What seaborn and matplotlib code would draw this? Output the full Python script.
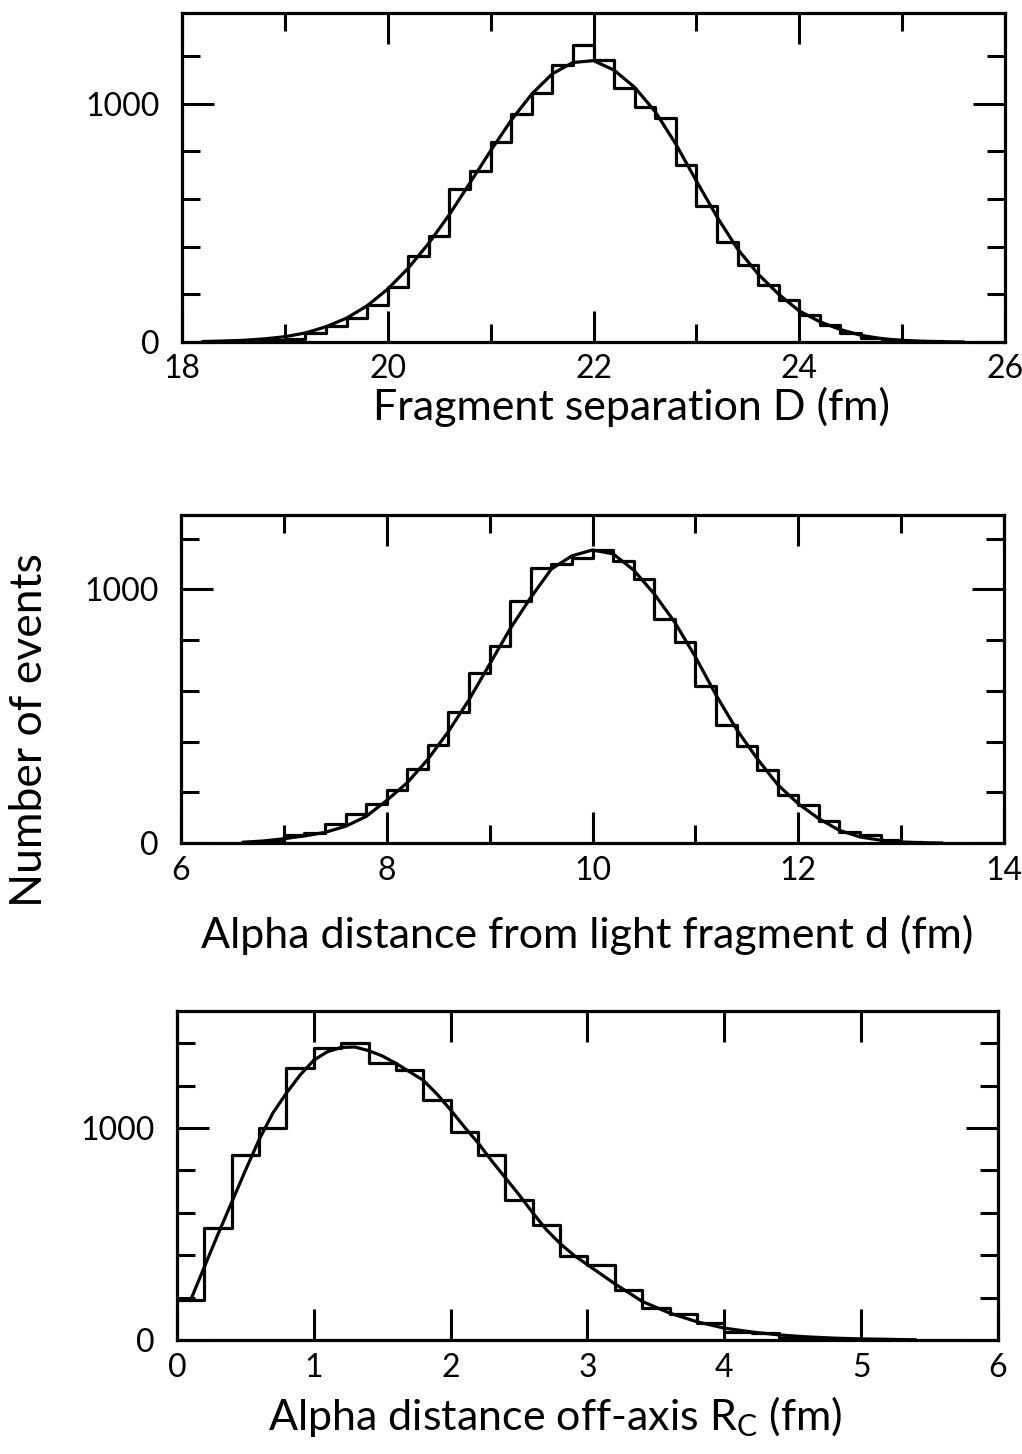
import numpy as np
import pandas as pd
import seaborn as sns
import matplotlib.pyplot as plt
from matplotlib.ticker import MultipleLocator, NullLocator

# histogram bin width (fm) shared by all three panels
BIN_W = 0.2

# --- panel 1: fragment separation D ---
sep_start = 18.4
sep_counts = [4, 6, 10, 14, 39, 67, 99, 155, 229, 362, 444, 640, 718, 839, 956,
              1045, 1161, 1245, 1182, 1064, 987, 938, 743, 570, 421, 323, 239,
              176, 113, 71, 36, 15, 8, 4, 3, 2]
sep_fit_x = [18.2, 18.4, 18.6, 18.8, 19.0, 19.2, 19.4, 19.6, 19.8, 20.0, 20.2,
             20.4, 20.6, 20.8, 21.0, 21.2, 21.4, 21.6, 21.8, 22.0, 22.2, 22.4,
             22.6, 22.8, 23.0, 23.2, 23.4, 23.6, 23.8, 24.0, 24.2, 24.4, 24.6,
             24.8, 25.0, 25.2, 25.4, 25.6]
sep_fit_y = [2, 4, 7, 13, 22, 38, 64, 100, 152, 222, 310, 415, 535, 668, 802,
             930, 1040, 1125, 1172, 1180, 1140, 1068, 966, 830, 675, 525, 390,
             285, 200, 130, 85, 52, 28, 14, 7, 3, 1, 0]

# --- panel 2: alpha distance from light fragment d ---
light_start = 6.6
light_counts = [4, 8, 30, 38, 76, 113, 153, 208, 293, 385, 517, 672, 777, 955,
                1085, 1100, 1125, 1154, 1111, 1039, 882, 793, 618, 467, 381,
                287, 188, 149, 87, 43, 33, 10, 3, 2]
light_fit_x = [6.6, 6.8, 7.0, 7.2, 7.4, 7.6, 7.8, 8.0, 8.2, 8.4, 8.6, 8.8, 9.0,
               9.2, 9.4, 9.6, 9.8, 10.0, 10.2, 10.4, 10.6, 10.8, 11.0, 11.2,
               11.4, 11.6, 11.8, 12.0, 12.2, 12.4, 12.6, 12.8, 13.0, 13.2, 13.4]
light_fit_y = [3, 8, 17, 28, 42, 66, 105, 168, 238, 330, 440, 565, 705, 845,
               968, 1080, 1132, 1155, 1140, 1076, 982, 870, 734, 584, 448, 333,
               230, 155, 96, 50, 24, 11, 4, 1, 0]

# --- panel 3: alpha distance off-axis Rc ---
axis_start = 0.0
axis_counts = [189, 527, 873, 998, 1281, 1376, 1403, 1305, 1274, 1132, 983, 873,
               660, 542, 396, 354, 236, 150, 125, 79, 39, 35, 8, 5, 4, 3, 2]
axis_fit_x = [0.1, 0.2, 0.3, 0.4, 0.5, 0.6, 0.7, 0.8, 0.9, 1.0, 1.1, 1.2, 1.3,
              1.4, 1.5, 1.6, 1.7, 1.8, 1.9, 2.0, 2.1, 2.2, 2.3, 2.4, 2.5, 2.6,
              2.7, 2.8, 2.9, 3.0, 3.2, 3.4, 3.6, 3.8, 4.0, 4.2, 4.4, 4.6, 4.8,
              5.0, 5.2, 5.4]
axis_fit_y = [189, 345, 500, 650, 800, 945, 1070, 1165, 1250, 1320, 1360, 1380,
              1382, 1365, 1340, 1305, 1265, 1225, 1160, 1085, 1005, 930, 845,
              765, 685, 600, 520, 455, 400, 355, 265, 182, 127, 86, 56, 38, 24,
              15, 9, 5, 3, 1]

xlabels = ["Fragment separation D (fm)",
           "Alpha distance from light fragment d (fm)",
           "Alpha distance off-axis $\\mathregular{R_C}$ (fm)"]

sns.set_style("ticks")
plt.rcParams['font.family'] = ['Lato', 'DejaVu Sans']
plt.rcParams['mathtext.fontset'] = 'custom'
plt.rcParams['mathtext.rm'] = 'Lato'
plt.rcParams['text.color'] = 'black'
plt.rcParams['axes.labelcolor'] = 'black'
plt.rcParams['xtick.color'] = 'black'
plt.rcParams['ytick.color'] = 'black'

LW = 2.3


def draw_panel(ax, start, counts, fit_x, fit_y):
    edges = [start + BIN_W * i for i in range(len(counts) + 1)]
    df = pd.DataFrame({"mid": [e + BIN_W / 2 for e in edges[:-1]],
                       "n": counts})
    sns.histplot(data=df, x="mid", weights="n", bins=edges, element="step",
                 fill=False, color="black", linewidth=LW, ax=ax)
    fit = pd.DataFrame({"x": fit_x, "y": fit_y})
    sns.lineplot(data=fit, x="x", y="y", color="black", linewidth=LW,
                 estimator=None, ax=ax)
    ax.set_ylabel("")
    for s in ax.spines.values():
        s.set_visible(True)
        s.set_linewidth(2.3)
        s.set_color("black")
    ax.tick_params(which="both", direction="in", top=True, right=True,
                   width=2.2, color="black", labelcolor="black", labelsize=23)
    ax.tick_params(axis="x", which="major", length=22, pad=9)
    ax.tick_params(axis="x", which="minor", length=13)
    ax.tick_params(axis="y", which="major", length=23, pad=16)
    ax.tick_params(axis="y", which="minor", length=13)
    ax.yaxis.set_major_locator(MultipleLocator(1000))
    ax.yaxis.set_minor_locator(MultipleLocator(200))


fig = plt.figure(figsize=(10.22, 14.54), dpi=100)
ax1 = fig.add_axes([0.1781, 0.7648, 0.8053, 0.2263])
ax2 = fig.add_axes([0.1771, 0.4202, 0.8053, 0.2256])
ax3 = fig.add_axes([0.1732, 0.0784, 0.8033, 0.2263])

draw_panel(ax1, sep_start, sep_counts, sep_fit_x, sep_fit_y)
ax1.set_xlim(18, 26)
ax1.set_ylim(0, 1380)
ax1.xaxis.set_major_locator(MultipleLocator(2))
ax1.xaxis.set_minor_locator(MultipleLocator(1))

draw_panel(ax2, light_start, light_counts, light_fit_x, light_fit_y)
ax2.set_xlim(6, 14)
ax2.set_ylim(0, 1293)
ax2.xaxis.set_major_locator(MultipleLocator(2))
ax2.xaxis.set_minor_locator(MultipleLocator(1))

draw_panel(ax3, axis_start, axis_counts, axis_fit_x, axis_fit_y)
ax3.set_xlim(0, 6)
ax3.set_ylim(0, 1552)
ax3.xaxis.set_major_locator(MultipleLocator(1))
ax3.xaxis.set_minor_locator(NullLocator())

label_pos = [(0.546, -0.237), (0.494, -0.32), (0.46, -0.274)]
for ax, lab, (lx, ly) in zip([ax1, ax2, ax3], xlabels, label_pos):
    ax.set_xlabel(lab, fontsize=31, va="baseline", color="black")
    ax.xaxis.set_label_coords(lx, ly)

fig.text(0.029, 0.498, "Number of events", rotation=90, fontsize=32,
         ha="center", va="center", color="black")

plt.savefig("out.png", dpi=100)
plt.close()
